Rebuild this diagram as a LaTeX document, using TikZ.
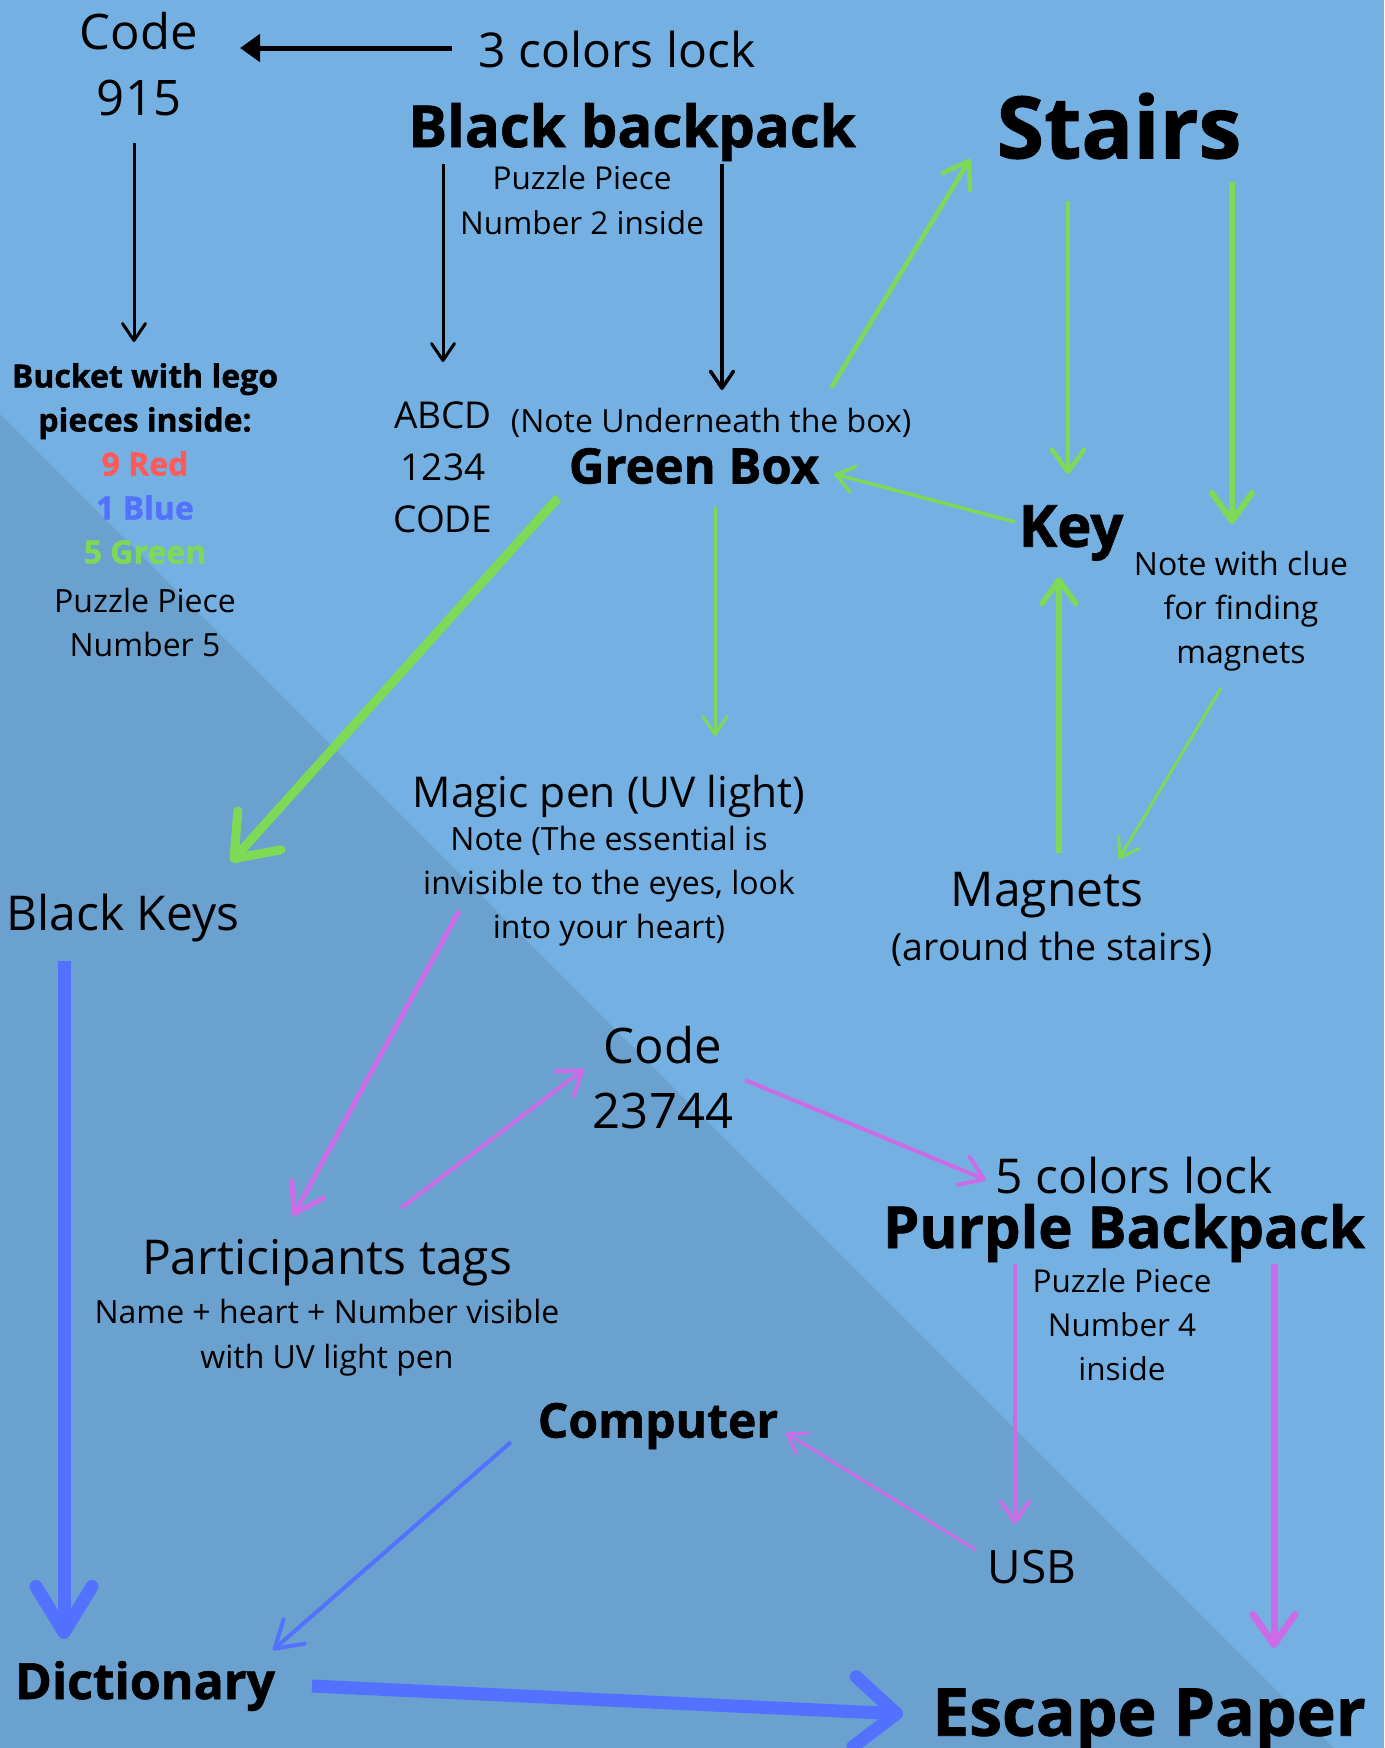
\documentclass[tikz,border=0pt]{standalone}
\usepackage{fontspec}
\setmainfont{Open Sans}[BoldFeatures={FakeBold=1.2}]
\usetikzlibrary{arrows.meta}
\definecolor{bglight}{RGB}{116,177,226}
\definecolor{bgdark}{RGB}{106,161,206}
\definecolor{cgreen}{RGB}{126,217,87}
\definecolor{cpurple}{RGB}{203,108,230}
\definecolor{cblue}{RGB}{82,113,255}
\definecolor{cred}{RGB}{255,90,90}
\newcommand\fsz[2]{\fontsize{#1pt}{#2pt}\selectfont}
\tikzset{
  txt/.style={inner sep=0pt, align=center, text=black},
  barb/.style 2 args={-{Straight Barb[round,length=#1pt,width=#2pt]}},
  blk/.style={draw=black},
  grn/.style={draw=cgreen},
  prp/.style={draw=cpurple},
  blu/.style={draw=cblue},
}
\begin{document}
\begin{tikzpicture}[x=1pt,y=-1pt]
\fill[bglight] (0,0) rectangle (1384,1748);
\fill[bgdark] (0,414) -- (0,1748) -- (1334,1748) -- cycle;
\useasboundingbox (0,0) rectangle (1384,1748);

% nodes
\node[txt,font=\fsz{49}{66}] (code915) at (139,64) {Code\\915};
\node[txt,font=\fsz{48}{58}] (lock3) at (617,49) {3 colors lock};
\node[txt,font=\fsz{58}{70}\bfseries] (bb) at (632,132) {Black backpack};
\node[txt,font=\fsz{31.5}{45}] (pp2) at (582,200) {Puzzle Piece\\Number 2 inside};
\node[txt,font=\fsz{32}{44}] (bucket) at (145,510) {\textbf{Bucket with lego}\\\textbf{pieces inside:}\\\textbf{\color{cred}9 Red}\\\textbf{\color{cblue}1 Blue}\\\textbf{\color{cgreen}5 Green}\\[5pt]Puzzle Piece\\Number 5};
\node[txt,font=\fsz{37}{52}] (abcd) at (443,467) {ABCD\\1234\\CODE};
\node[txt,font=\fsz{32}{40}] (noteunder) at (711,423) {(Note Underneath the box)};
\node[txt,font=\fsz{49}{58}\bfseries] (greenbox) at (694,466) {Green Box};
\node[txt,font=\fsz{86}{100}\bfseries] (stairs) at (1119,126) {Stairs};
\node[txt,font=\fsz{58}{68}\bfseries] (key) at (1071,533) {Key};
\node[txt,font=\fsz{32}{44}] (noteclue) at (1241,611) {Note with clue\\for finding\\magnets};
\node[txt,font=\fsz{42.5}{50}] (magic) at (609,796) {Magic pen (UV light)};
\node[txt,font=\fsz{32}{44}] (magicnote) at (609,886) {Note (The essential is\\invisible to the eyes, look\\into your heart)};
\node[txt,font=\fsz{48}{56}] (magnets) at (1047,895) {Magnets};
\node[txt,font=\fsz{37.5}{44}] (magnetsub) at (1052,949) {(around the stairs)};
\node[txt,font=\fsz{48}{56}] (blackkeys) at (123,918) {Black Keys};
\node[txt,font=\fsz{49}{65}] (code23744) at (663,1078) {Code\\23744};
\node[txt,font=\fsz{48}{56}] (participants) at (327,1263) {Participants tags};
\node[txt,font=\fsz{32}{45}] (partsub) at (327,1338) {Name + heart + Number visible\\with UV light pen};
\node[txt,font=\fsz{48}{58}] (lock5) at (1134,1175) {5 colors lock};
\node[txt,font=\fsz{58}{68}\bfseries] (purple) at (1124,1233) {Purple Backpack};
\node[txt,font=\fsz{31.5}{44}] (pp4) at (1122,1325) {Puzzle Piece\\Number 4\\inside};
\node[txt,font=\fsz{48}{58}\bfseries] (computer) at (658,1426) {Computer};
\node[txt,font=\fsz{46}{55}] (usb) at (1032,1567) {USB};
\node[txt,font=\fsz{50}{60}\bfseries] (dictionary) at (145,1686) {Dictionary};
\node[txt,font=\fsz{66}{78}\bfseries] (escape) at (1149,1720) {Escape Paper};

% black connectors
\draw[blk,line width=5pt,-{Triangle[length=20pt,width=27pt]}] ([shift={(-165,-1)}]lock3.center) -- ([shift={(101,-16)}]code915.center);
\draw[blk,line width=3pt,barb={17}{23}] ([shift={(-5,79)}]code915.center) -- ([shift={(-11,-168)}]bucket.center);
\draw[blk,line width=3pt,barb={17}{23}] ([shift={(-189,32)}]bb.center) -- ([shift={(0,-105)}]abcd.center);
\draw[blk,line width=3.5pt,barb={17}{23}] ([shift={(90,32)}]bb.center) -- ([shift={(11,-33)}]noteunder.center);

% green connectors
\draw[grn,line width=4.5pt,barb={24}{32}] ([shift={(137,-78)}]greenbox.center) -- ([shift={(-149,33)}]stairs.center);
\draw[grn,line width=4.5pt,barb={22}{32}] ([shift={(-51,75)}]stairs.center) -- ([shift={(-3,-59)}]key.center);
\draw[grn,line width=6pt,barb={28}{40}] ([shift={(113,56)}]stairs.center) -- ([shift={(-9,-87)}]noteclue.center);
\draw[grn,line width=3.5pt,barb={18}{26}] ([shift={(-56,-11)}]key.center) -- ([shift={(140,8)}]greenbox.center);
\draw[grn,line width=3pt,barb={18}{24}] ([shift={(21,41)}]greenbox.center) -- ([shift={(106,-60)}]magic.center);
\draw[grn,line width=9pt,barb={38}{58}] ([shift={(-136,32)}]greenbox.center) -- ([shift={(108,-56)}]blackkeys.center);
\draw[grn,line width=5.5pt,barb={24}{34}] ([shift={(12,-42)}]magnets.center) -- ([shift={(-12,44)}]key.center);
\draw[grn,line width=3pt,barb={18}{24}] ([shift={(-20,77)}]noteclue.center) -- ([shift={(72,-36)}]magnets.center);

% purple connectors
\draw[prp,line width=5pt,barb={28}{36}] ([shift={(-150,25)}]magicnote.center) -- ([shift={(-34,-47)}]participants.center);
\draw[prp,line width=4pt,barb={22}{30}] ([shift={(74,-55)}]participants.center) -- ([shift={(-79,-9)}]code23744.center);
\draw[prp,line width=4pt,barb={22}{30}] ([shift={(82,2)}]code23744.center) -- ([shift={(-148,5)}]lock5.center);
\draw[prp,line width=4pt,barb={20}{28}] ([shift={(-109,31)}]purple.center) -- ([shift={(-17,-43)}]usb.center);
\draw[prp,line width=7pt,barb={30}{42}] ([shift={(150,31)}]purple.center) -- ([shift={(125,-72)}]escape.center);
\draw[prp,line width=3pt,barb={18}{24}] ([shift={(-56,-17)}]usb.center) -- ([shift={(128,7)}]computer.center);

% blue connectors
\draw[blu,line width=13pt,barb={46}{56}] ([shift={(-59,43)}]blackkeys.center) -- ([shift={(-81,-47)}]dictionary.center);
\draw[blu,line width=4pt,barb={26}{32}] ([shift={(-147,16)}]computer.center) -- ([shift={(128,-36)}]dictionary.center);
\draw[blu,line width=13pt,barb={42}{70}] ([shift={(167,0)}]dictionary.center) -- ([shift={(-246,-6)}]escape.center);
\end{tikzpicture}
\end{document}
